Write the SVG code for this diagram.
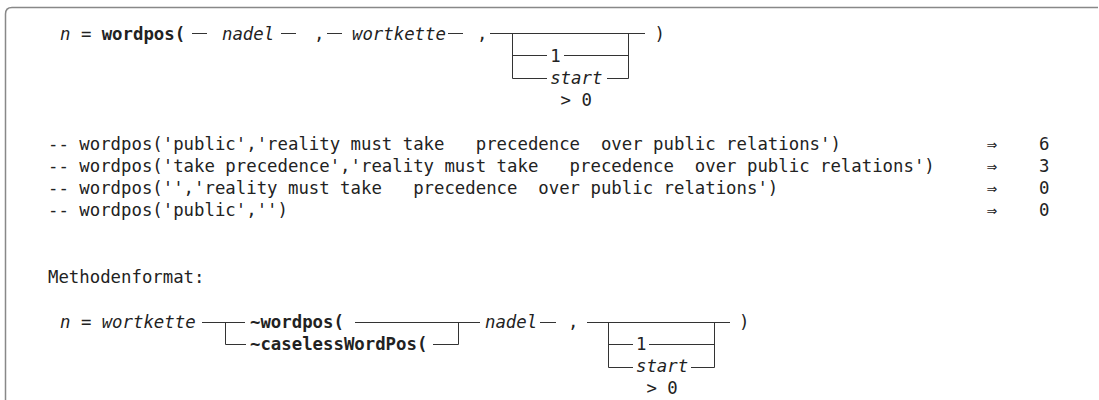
<svg xmlns="http://www.w3.org/2000/svg" width="1099" height="400" viewBox="0 0 1099 400">
<style>
text{font-family:"DejaVu Sans Mono","Liberation Mono",monospace;font-size:17.33px;fill:#222;white-space:pre}
.i{font-style:italic}
.b{font-weight:bold}
.ln{stroke:#333;stroke-width:1;fill:none}
.frame{stroke:#888;stroke-width:1.5;fill:none}
</style>
<path class="frame" d="M5.5,400 V14 Q5.5,7.5 12,7.5 H1098"/>
<g id="syntax1">
<text class="i" x="60" y="39.5">n</text>
<text x="80.9" y="39.5">=</text>
<text class="b" x="101.7" y="39.5">wordpos(</text>
<text class="i" x="222" y="39.5">nadel</text>
<text x="314" y="39.5">,</text>
<text class="i" x="352" y="39.5">wortkette</text>
<text x="477" y="39.5">,</text>
<text x="654.5" y="39.5">)</text>
<text x="550.2" y="61.5">1</text>
<text class="i" x="550.2" y="83.5">start</text>
<text x="560.6" y="105.5">&gt; 0</text>
</g>
<g id="syntax2">
<text class="i" x="60" y="328">n</text>
<text x="80.9" y="328">=</text>
<text class="i" x="101.7" y="328">wortkette</text>
<text class="b" x="250" y="328">~wordpos(</text>
<text class="b" x="250" y="350">~caselessWordPos(</text>
<text class="i" x="485" y="328">nadel</text>
<text x="568" y="328">,</text>
<text x="739" y="328">)</text>
<text x="636" y="350">1</text>
<text class="i" x="636" y="372">start</text>
<text x="646.5" y="394">&gt; 0</text>
</g>
<g id="examples">
<text x="48" y="150">-- wordpos('public','reality must take   precedence  over public relations')</text>
<text x="48" y="172">-- wordpos('take precedence','reality must take   precedence  over public relations')</text>
<text x="48" y="194">-- wordpos('','reality must take   precedence  over public relations')</text>
<text x="48" y="216">-- wordpos('public','')</text>
<text x="986.7" y="150">⇒</text><text x="1038.9" y="150">6</text>
<text x="986.7" y="172">⇒</text><text x="1038.9" y="172">3</text>
<text x="986.7" y="194">⇒</text><text x="1038.9" y="194">0</text>
<text x="986.7" y="216">⇒</text><text x="1038.9" y="216">0</text>
<text x="48" y="283">Methodenformat:</text>
</g>
<g id="connectors">
<path class="ln" d="M192,33.5H207 M281,33.5H296 M327,33.5H342 M448,33.5H463"/>
<path class="ln" d="M490,33.5H645 M512.5,33.5V78.5 M628.5,33.5V78.5 M512.5,55.5H547 M564,55.5H628.5 M512.5,78.5H547 M607,78.5H628.5"/>
<path class="ln" d="M202,322.5H245 M225.5,322.5V344.5H246 M355,322.5H480 M458.5,322.5V344.5H433 M540,322.5H556"/>
<path class="ln" d="M587,322.5H730 M608.5,322.5V367.5 M714.5,322.5V367.5 M608.5,344.5H633 M649,344.5H714.5 M608.5,367.5H633 M691,367.5H714.5"/>
</g>
</svg>
